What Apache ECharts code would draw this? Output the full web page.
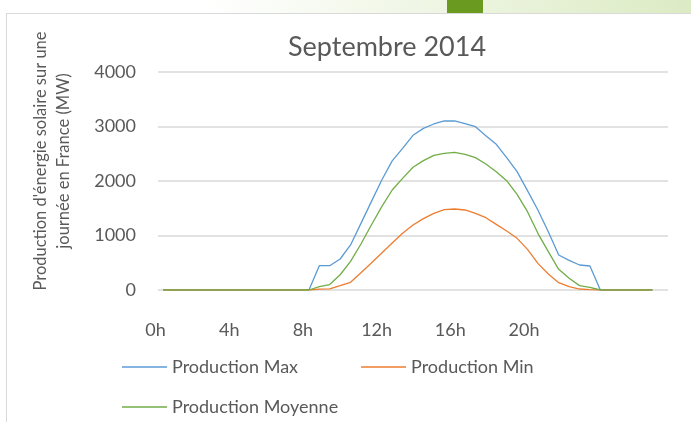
<!DOCTYPE html>
<html>
<head>
<meta charset="utf-8">
<script src="https://cdn.jsdelivr.net/npm/echarts@6/dist/echarts.min.js"></script>
<style>
    html, body { margin: 0; padding: 0; background: #fff; }
    #chart { width: 691px; height: 422px; }
</style>
</head>
<body>
<div id="chart"></div>
<script>
// demi-heures de 0h00 a 24h00 (la derniere case reste vide)
var halfHours = [];
for (var h = 0; h <= 24; h++) {
    halfHours.push(h + 'h00');
    if (h < 24) halfHours.push(h + 'h30');
}
var hourLabels = ['0h', '4h', '8h', '12h', '16h', '20h'];

var prodMax = [0, 0, 0, 0, 0, 0, 0, 0, 0, 0, 0, 0, 0, 0, 0,
    446, 446, 569, 826, 1223, 1621, 2018, 2370, 2600, 2838, 2966, 3046, 3101, 3104,
    3052, 2997, 2832, 2673, 2428, 2171, 1823, 1468, 1070, 642, 544, 459, 440,
    0, 0, 0, 0, 0, 0];
var prodMin = [0, 0, 0, 0, 0, 0, 0, 0, 0, 0, 0, 0, 0, 0, 0,
    15, 20, 80, 141, 318, 495, 679, 862, 1040, 1193, 1309, 1407, 1474, 1486,
    1468, 1407, 1327, 1205, 1083, 948, 746, 489, 294, 134, 61, 18, 6,
    0, 0, 0, 0, 0, 0];
var prodMoy = [0, 0, 0, 0, 0, 0, 0, 0, 0, 0, 0, 0, 0, 0, 0,
    60, 100, 280, 525, 844, 1193, 1529, 1835, 2049, 2251, 2373, 2471, 2508, 2526,
    2489, 2428, 2312, 2171, 2006, 1755, 1437, 1040, 703, 379, 214, 80, 49,
    0, 0, 0, 0, 0, 0];

var chart = echarts.init(document.getElementById('chart'));
var font = 'Lato, "Noto Sans", sans-serif';
var grey = '#595959';

var legendStyle = {
    left: 117,
    itemWidth: 45,
    itemHeight: 1.5,
    icon: 'rect',
    textStyle: { fontFamily: font, fontSize: 18, color: grey }
};

var option = {
    backgroundColor: '#fff',
    animation: false,
    textStyle: { fontFamily: font },
    graphic: [
        {
            type: 'rect', silent: true,
            shape: { x: 0, y: 0, width: 691, height: 13 },
            style: {
                fill: new echarts.graphic.LinearGradient(0, 0, 1, 0, [
                    { offset: 0, color: '#ffffff' },
                    { offset: 0.3, color: '#ffffff' },
                    { offset: 1, color: '#dcebc4' }
                ])
            }
        },
        { type: 'rect', silent: true, shape: { x: 447, y: 0, width: 36, height: 13 }, style: { fill: '#6a9a1f' } },
        { type: 'line', silent: true, shape: { x1: 6, y1: 13.5, x2: 691, y2: 13.5 }, style: { stroke: '#d9d9d9', lineWidth: 1 } },
        { type: 'line', silent: true, shape: { x1: 6.5, y1: 13, x2: 6.5, y2: 422 }, style: { stroke: '#d9d9d9', lineWidth: 1 } }
    ],
    title: {
        text: 'Septembre 2014',
        left: 283,
        top: 29,
        textStyle: { fontFamily: font, fontSize: 27, fontWeight: 'normal', color: grey }
    },
    legend: [
        echarts.util.extend({ data: ['Production Max', 'Production Min'], top: 353, itemGap: 63 }, legendStyle),
        echarts.util.extend({ data: ['Production Moyenne'], top: 393 }, legendStyle)
    ],
    grid: { left: 158, right: 23, top: 72, bottom: 132 },
    xAxis: [
        {
            type: 'category',
            data: halfHours,
            boundaryGap: true,
            axisLine: { show: false },
            axisTick: { show: false },
            axisLabel: { show: false }
        },
        {
            type: 'value',
            position: 'bottom',
            min: 0,
            max: 27.68,
            interval: 4,
            splitLine: { show: false },
            axisLine: { show: false },
            axisTick: { show: false },
            axisLabel: {
                margin: 31,
                fontSize: 18,
                color: grey,
                fontFamily: font,
                padding: [0, 5, 0, 0],
                showMaxLabel: false,
                formatter: function (v) { return hourLabels[v / 4] || ''; }
            }
        }
    ],
    yAxis: {
        type: 'value',
        min: 0,
        max: 4000,
        interval: 1000,
        name: "Production d'énergie solaire sur une\njournée en France (MW)",
        nameLocation: 'middle',
        nameRotate: 90,
        nameGap: 83,
        nameTextStyle: { fontFamily: font, fontSize: 16.5, color: grey, lineHeight: 23, padding: [0, 0, 0, 40] },
        axisLine: { show: false },
        axisTick: { show: false },
        axisLabel: {
            margin: 22, fontSize: 18, color: grey, fontFamily: font,
            formatter: function (v) { return String(v); }
        },
        splitLine: { lineStyle: { color: '#d9d9d9', width: 1.5 } }
    },
    series: [
        {
            name: 'Production Max', type: 'line', data: prodMax,
            symbol: 'none', color: '#5b9bd5', lineStyle: { width: 1.3 }
        },
        {
            name: 'Production Min', type: 'line', data: prodMin,
            symbol: 'none', color: '#ed7d31', lineStyle: { width: 1.3 }
        },
        {
            name: 'Production Moyenne', type: 'line', data: prodMoy,
            symbol: 'none', color: '#70ad47', lineStyle: { width: 1.3 }
        }
    ]
};
chart.setOption(option);
window.onresize = function () {
    chart.resize();
};
</script>
</body>
</html>
